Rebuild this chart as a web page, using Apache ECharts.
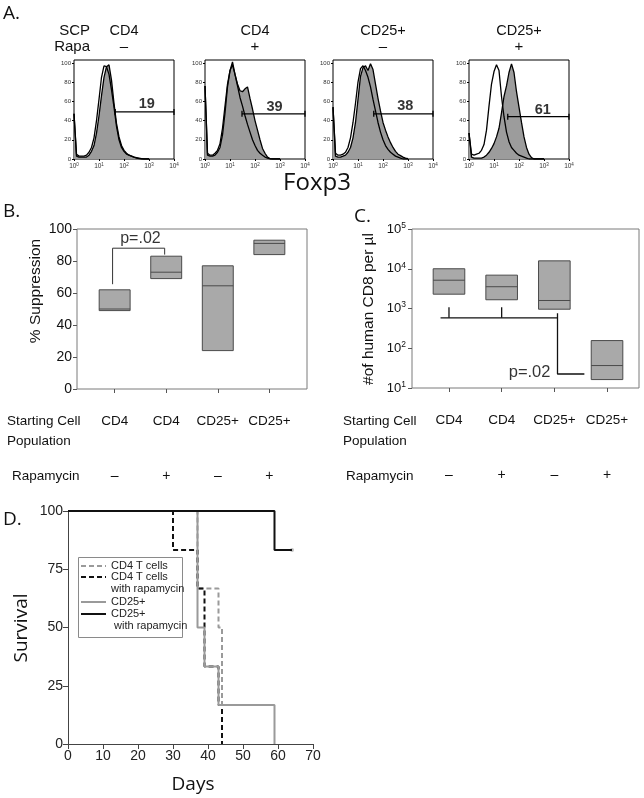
<!DOCTYPE html>
<html><head><meta charset="utf-8">
<script src="https://cdn.jsdelivr.net/npm/echarts@6/dist/echarts.min.js"></script>
<style>html,body{margin:0;padding:0;background:#fff}#c{width:644px;height:798px}</style>
</head><body><div id="c"></div>
<script>
// ---------- Panel A: Foxp3 histograms (log10 fluorescence, % of max) ----------
const histLog = [0,0.1,0.2,0.3,0.4,0.5,0.6,0.7,0.8,0.9,1,1.1,1.2,1.3,1.4,1.5,1.6,1.7,1.8,1.9,2,2.1,2.2,2.3,2.4,2.5,2.6,2.7,2.8,2.9,3];
const h1Ctrl  = [47,5,3,3,3,4,7,12,22,40,62,85,97,96,88,72,54,34,20,12,8,5,4,3,2,1,0.5,0,0,0,0];
const h1Foxp3 = [47,3,2,2,2,2,4,8,14,27,45,66,85,96,98,82,58,37,23,14,9,6,4,3,2,1.5,1,0.5,0,0,0];
const h2Ctrl  = [76,6,4,4,6,9,16,32,55,78,92,98,88,76,64,55,45,36,28,20,14,9,6,4,2,1,0,0,0,0,0];
const h2Foxp3 = [76,4,3,3,4,7,12,25,48,75,92,101,88,78,71,70,73,75,63,52,40,30,20,11,6,2,0.5,0,0,0,0];
const h3Ctrl  = [54,6,4,4,5,7,12,22,38,58,80,94,97,92,85,75,62,50,38,28,20,14,10,7,5,3,2,1,0,0,0];
const h3Foxp3 = [54,3,2,2,3,4,7,12,22,38,62,86,95,97,92,99,93,78,63,50,38,30,23,17,12,8,5,3.5,2,1,0.5];
const h4Ctrl  = [27,5,4,5,6,9,15,30,55,78,91,98,92,65,44,28,18,12,9,6,4,3,2,1,0,0,0,0,0,0,0];
const h4Foxp3 = [27,2,1,1,1,1,2,4,7,11,16,23,32,48,65,76,90,99,90,70,54,38,23,12,5,1.5,0,0,0,0,0];
const histPop  = ['CD4','CD4','CD25+','CD25+'];
const histRapa = ['–','+','–','+'];
const gateStart = [1.65,1.48,1.63,1.55];
const gateY     = [49,47,47,44];
const gateLabel = ['19','39','38','61'];
const gateLabelX = [2.91,2.78,2.89,2.95];
const gateLabelY = [57,54,55,51];
const histTicksY = [0,20,40,60,80,100];

// ---------- Panels B / C ----------
const catPop  = ['CD4','CD4','CD25+','CD25+'];
const catRapa = ['–','+','–','+'];
const supLow  = [49,69,24,84];
const supMed  = [50,73,64.5,91];
const supHigh = [62,83,77,93];
const supBracketX = [0.96,0.96,1.97,1.97];
const supBracketY = [65.5,88,88,84];
const supP = {x:1.5, y:94, text:'p=.02'};
const cd8Low  = [2290,1660,960,16.3];
const cd8Med  = [5150,3530,1590,36.7];
const cd8High = [10000,6900,15800,156];
const cd8Brk1X = [1,1],   cd8Brk1Y = [1075,583];
const cd8Brk2X = [2,2],   cd8Brk2Y = [1075,583];
const cd8Brk3X = [0.84,3.06], cd8Brk3Y = [583,583];
const cd8Brk4X = [3.06,3.06,3.57], cd8Brk4Y = [760,22.5,22.5];
const cd8P = {x:2.53, y:24.8, text:'p=.02'};

// ---------- Panel D: survival ----------
const cd4Days = [0,37,43,44],             cd4Surv = [100,66.7,50,0];
const cd4RapaDays = [0,30,37,39,43,44],   cd4RapaSurv = [100,83.3,66.7,33.3,16.7,0];
const cd25Days = [0,37,39,43,59],         cd25Surv = [100,50,33.3,16.7,0];
const cd25RapaDays = [0,59,64],           cd25RapaSurv = [100,83.3,83.3];
const censorDay = [64], censorSurv = [83.3];
const kmNames = ['CD4 T cells','CD4 T cells with rapamycin','CD25+','CD25+ with rapamycin'];
const kmLegend = ['CD4 T cells','\nCD4 T cells\nwith rapamycin','CD25+','\nCD25+\n with rapamycin'];

const FONT = 'Liberation Sans';
const FONT2 = 'Open Sans';
const zip = (xs, ys) => xs.map((x,i)=>[x, ys[i]]);

const histCtrl = [h1Ctrl,h2Ctrl,h3Ctrl,h4Ctrl];
const histFox  = [h1Foxp3,h2Foxp3,h3Foxp3,h4Foxp3];
const histLeft = [74,205,333,469];

const grid = [], xAxis = [], yAxis = [], series = [], graphic = [];

histLeft.forEach((l,i)=>{
  grid.push({left:l, top:60, width:100, height:99, show:true, borderColor:'#000', borderWidth:1, containLabel:false});
  xAxis.push({type:'value', gridIndex:i, min:0, max:4, interval:1,
    axisLine:{show:false}, splitLine:{show:false},
    axisTick:{show:true, length:2, lineStyle:{color:'#000'}},
    axisLabel:{margin:3, fontSize:6.5, color:'#333', formatter:v=>'10{s|'+v+'}', rich:{s:{fontSize:4.5, padding:[0,0,4,0]}}}});
  yAxis.push({type:'value', gridIndex:i, min:0, max:103,
    axisLine:{show:false}, splitLine:{show:false},
    axisTick:{show:true, length:2, customValues:histTicksY, lineStyle:{color:'#000'}},
    axisLabel:{margin:3, fontSize:6, color:'#333', customValues:histTicksY}});
  series.push({type:'line', xAxisIndex:i, yAxisIndex:i, data:zip(histLog,histCtrl[i]), symbol:'none',
    lineStyle:{color:'#000', width:1.3}, silent:true});
  series.push({type:'line', xAxisIndex:i, yAxisIndex:i, data:zip(histLog,histFox[i]), symbol:'none',
    lineStyle:{color:'#000', width:1.3}, areaStyle:{color:'#9c9c9c', opacity:1}, silent:true});
  series.push({type:'line', xAxisIndex:i, yAxisIndex:i, data:[[gateStart[i],gateY[i]],[4,gateY[i]]],
    symbol:'rect', symbolSize:[1.3,6], itemStyle:{color:'#000'}, lineStyle:{color:'#000', width:1.3}, silent:true, clip:false});
  series.push({type:'scatter', xAxisIndex:i, yAxisIndex:i, symbolSize:0, silent:true,
    data:[[gateLabelX[i], gateLabelY[i]]],
    label:{show:true, position:'inside', formatter:gateLabel[i], fontSize:14.5, fontWeight:'bold', color:'#000', fontFamily:FONT}});
  graphic.push({type:'text', x:l+50, y:31, style:{text:histPop[i], fontSize:14.5, fontFamily:FONT, fill:'#111', align:'center', verticalAlign:'middle'}});
  graphic.push({type:'text', x:l+50, y:47, style:{text:histRapa[i], fontSize:15, fontFamily:FONT, fill:'#111', align:'center', verticalAlign:'middle'}});
});

// Panel B (grid 4) and C (grid 5)
const tickVals = [1,2,3,4];
function catAxes(gi, min, max){
  xAxis.push({type:'value', gridIndex:gi, min:min, max:max,
    axisLine:{show:false}, splitLine:{show:false},
    axisTick:{show:true, length:4, customValues:tickVals, lineStyle:{color:'#555'}},
    axisLabel:{customValues:tickVals, formatter:v=>catPop[Math.round(v)-1], margin:25, fontSize:13.5, color:'#111'}});
  xAxis.push({type:'value', gridIndex:gi, min:min, max:max, position:'bottom', offset:55,
    axisLine:{show:false}, splitLine:{show:false}, axisTick:{show:false},
    axisLabel:{customValues:tickVals, formatter:v=>catRapa[Math.round(v)-1], margin:25, fontSize:14, color:'#111'}});
}
function boxRender(params, api){
  const x = api.value(0), lo = api.value(1), md = api.value(2), hi = api.value(3);
  const a = api.coord([x-0.3, hi]), b = api.coord([x+0.3, lo]), m = api.coord([x, md]);
  return {type:'group', children:[
    {type:'rect', shape:{x:a[0], y:a[1], width:b[0]-a[0], height:b[1]-a[1]}, style:{fill:'#a9a9a9', stroke:'#4a4a4a', lineWidth:1}},
    {type:'line', shape:{x1:a[0], y1:m[1], x2:b[0], y2:m[1]}, style:{stroke:'#4a4a4a', lineWidth:1}}
  ]};
}
grid.push({left:77, top:229, width:230, height:160, show:true, borderColor:'#7a7a7a', borderWidth:1});
catAxes(4, 0.27, 4.73);
yAxis.push({type:'value', gridIndex:4, min:0, max:100, interval:20,
  axisLine:{show:false}, splitLine:{show:false},
  axisTick:{show:true, length:4, lineStyle:{color:'#555'}},
  axisLabel:{fontSize:14, margin:5, color:'#111'}});
grid.push({left:412, top:229, width:227, height:159, show:true, borderColor:'#7a7a7a', borderWidth:1});
catAxes(5, 0.298, 4.607);
yAxis.push({type:'log', logBase:10, gridIndex:5, min:10, max:100000,
  axisLine:{show:false}, splitLine:{show:false}, minorTick:{show:false},
  axisTick:{show:true, length:4, lineStyle:{color:'#555'}},
  axisLabel:{fontSize:13, margin:6, color:'#111', formatter:v=>'10{s|'+Math.round(Math.log10(v))+'}',
    rich:{s:{fontSize:8.5, padding:[0,0,7,0]}}}});

series.push({type:'custom', xAxisIndex:4, yAxisIndex:4, renderItem:boxRender, silent:true,
  encode:{x:0, y:[1,2,3]}, data:catPop.map((_,i)=>[i+1, supLow[i], supMed[i], supHigh[i]])});
series.push({type:'line', xAxisIndex:4, yAxisIndex:4, data:zip(supBracketX,supBracketY), symbol:'none',
  lineStyle:{color:'#333', width:1}, silent:true});
series.push({type:'scatter', xAxisIndex:4, yAxisIndex:4, symbolSize:0, silent:true, data:[[supP.x, supP.y]],
  label:{show:true, position:'inside', formatter:supP.text, fontSize:16, color:'#000', fontFamily:FONT}});

series.push({type:'custom', xAxisIndex:6, yAxisIndex:5, renderItem:boxRender, silent:true,
  encode:{x:0, y:[1,2,3]}, data:catPop.map((_,i)=>[i+1, cd8Low[i], cd8Med[i], cd8High[i]])});
[[cd8Brk1X,cd8Brk1Y],[cd8Brk2X,cd8Brk2Y],[cd8Brk3X,cd8Brk3Y],[cd8Brk4X,cd8Brk4Y]].forEach(([bx,by])=>{
  series.push({type:'line', xAxisIndex:6, yAxisIndex:5, data:zip(bx,by), symbol:'none',
    lineStyle:{color:'#111', width:1.3}, silent:true});
});
series.push({type:'scatter', xAxisIndex:6, yAxisIndex:5, symbolSize:0, silent:true, data:[[cd8P.x, cd8P.y]],
  label:{show:true, position:'inside', formatter:cd8P.text, fontSize:16.5, color:'#000', fontFamily:FONT}});

// Panel D (grid 6)
grid.push({left:68, top:511, width:245, height:233});
xAxis.push({type:'value', gridIndex:6, min:0, max:70, interval:10,
  axisLine:{show:true, lineStyle:{color:'#444', width:1}}, splitLine:{show:false},
  axisTick:{show:true, length:5, lineStyle:{color:'#444'}},
  axisLabel:{fontSize:14, margin:5, color:'#222'}});
yAxis.push({type:'value', gridIndex:6, min:0, max:100, interval:25,
  axisLine:{show:true, lineStyle:{color:'#444', width:1}}, splitLine:{show:false},
  axisTick:{show:true, length:5, lineStyle:{color:'#444'}},
  axisLabel:{fontSize:14, margin:5, color:'#222'}});
const kmStyle = [
  {color:'#9a9a9a', type:[5,3]},
  {color:'#111', type:[5,3]},
  {color:'#9a9a9a', type:'solid'},
  {color:'#111', type:'solid'}];
[[cd4Days,cd4Surv],[cd4RapaDays,cd4RapaSurv],[cd25Days,cd25Surv],[cd25RapaDays,cd25RapaSurv]].forEach(([d,s],i)=>{
  series.push({type:'line', name:kmNames[i], xAxisIndex:8, yAxisIndex:6, step:'end', data:zip(d,s), symbol:'none',
    lineStyle:{color:kmStyle[i].color, width:2, type:kmStyle[i].type}, itemStyle:{color:kmStyle[i].color}, silent:true});
});
series.push({type:'scatter', xAxisIndex:8, yAxisIndex:6, data:zip(censorDay,censorSurv), symbol:'circle', symbolSize:4,
  itemStyle:{color:'#b0b0b0'}, silent:true});

const legTops = [560, 559, 596, 596];
const legend = kmNames.map((n,i)=>({
  data:[n], left:80, top:legTops[i], orient:'vertical', padding:0, itemWidth:25, itemHeight:10, itemGap:0,
  selectedMode:false, formatter:()=>kmLegend[i],
  itemStyle:{color:'rgba(0,0,0,0)', borderWidth:0, opacity:0},
  textStyle:{fontSize:11, lineHeight:12, color:'#222', fontFamily:FONT}
}));

graphic.push(
  {type:'rect', shape:{x:78.5, y:557.5, width:104, height:80}, style:{fill:'none', stroke:'#8a8a8a', lineWidth:1}},
  {type:'text', x:3, y:4, style:{text:'A.', fontSize:19, fontFamily:FONT2, fill:'#111'}},
  {type:'text', x:90, y:31, style:{text:'SCP', fontSize:15, fontFamily:FONT, fill:'#111', align:'right', verticalAlign:'middle'}},
  {type:'text', x:90, y:47, style:{text:'Rapa', fontSize:15, fontFamily:FONT, fill:'#111', align:'right', verticalAlign:'middle'}},
  {type:'text', x:317, y:183, style:{text:'Foxp3', fontSize:24, fontFamily:FONT2, fill:'#111', align:'center', verticalAlign:'middle'}},
  {type:'text', x:3, y:202, style:{text:'B.', fontSize:19, fontFamily:FONT2, fill:'#111'}},
  {type:'text', x:354, y:207, style:{text:'C.', fontSize:19, fontFamily:FONT2, fill:'#111'}},
  {type:'text', x:3, y:510, style:{text:'D.', fontSize:19, fontFamily:FONT2, fill:'#111'}},
  {type:'text', x:36, y:291, rotation:Math.PI/2, style:{text:'% Suppression', fontSize:15.5, fontFamily:FONT, fill:'#111', align:'center', verticalAlign:'middle'}},
  {type:'text', x:369, y:309, rotation:Math.PI/2, style:{text:'#of human CD8 per µl', fontSize:15.5, fontFamily:FONT, fill:'#111', align:'center', verticalAlign:'middle'}},
  {type:'text', x:22, y:628, rotation:Math.PI/2, style:{text:'Survival', fontSize:19, fontFamily:FONT2, fill:'#111', align:'center', verticalAlign:'middle'}},
  {type:'text', x:193, y:785, style:{text:'Days', fontSize:19, fontFamily:FONT2, fill:'#111', align:'center', verticalAlign:'middle'}}
);
[[7,12],[343,346]].forEach(([a,b])=>{
  graphic.push(
    {type:'text', x:a, y:421, style:{text:'Starting Cell', fontSize:13.5, fontFamily:FONT, fill:'#111', verticalAlign:'middle'}},
    {type:'text', x:a, y:441, style:{text:'Population', fontSize:13.5, fontFamily:FONT, fill:'#111', verticalAlign:'middle'}},
    {type:'text', x:b, y:476, style:{text:'Rapamycin', fontSize:13.5, fontFamily:FONT, fill:'#111', verticalAlign:'middle'}}
  );
});

const chart = echarts.init(document.getElementById('c'), null, {renderer:'canvas'});
chart.setOption({
  animation:false,
  backgroundColor:'#fff',
  textStyle:{fontFamily:FONT},
  grid, xAxis, yAxis, series, legend, graphic
});
</script></body></html>
